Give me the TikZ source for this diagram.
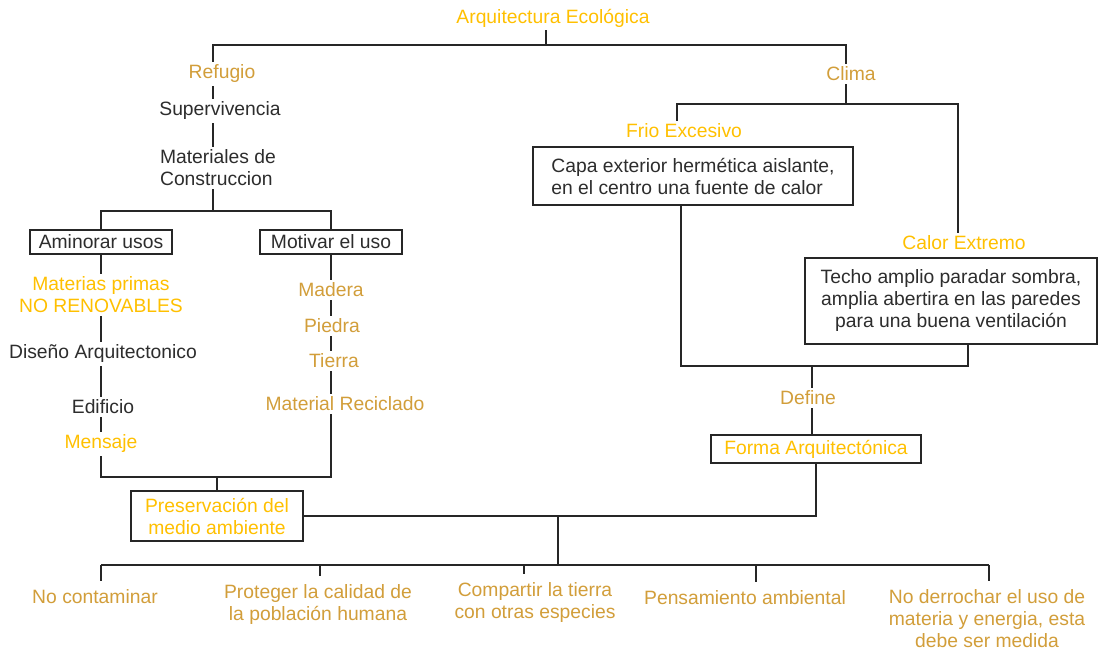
\documentclass[tikz,border=0pt]{standalone}
\usepackage{fontspec}
\setmainfont{Liberation Sans}
\usetikzlibrary{positioning,calc}
\definecolor{amarillo}{RGB}{255,192,0}
\definecolor{dorado}{RGB}{210,158,58}
\definecolor{grisos}{RGB}{45,45,45}
\tikzset{
  conn/.style={line width=1.8pt,color=black!85},
  txt/.style={inner sep=3pt,text=grisos,font=\fontsize{19.3}{22}\selectfont},
  amar/.style={txt,text=amarillo},
  dor/.style={txt,text=dorado},
  caja/.style={txt,draw=black!85,line width=1.8pt,fill=white,inner xsep=9pt},
}

\begin{document}
\begin{tikzpicture}[x=1pt,y=-1pt]
\useasboundingbox[fill=white] (0,0) rectangle (1099,650);

\node[amar] (arq) at (553,18) {Arquitectura Ecológica};
\node[dor] (ref) at (222,74) {Refugio};
\node[dor] (clima) at (851,74) {Clima};

% rama izquierda
\node[txt] (sup) at (220,111) {Supervivencia};
\node[txt,align=left] (mat) at (218,168) {Materiales de\\Construccion};
\node[caja,minimum width=142pt,minimum height=24pt] (amin) at (101,242) {Aminorar usos};
\node[caja,minimum width=142pt,minimum height=24pt] (mot) at (331,242) {Motivar el uso};
\node[amar,align=center] (mp) at (101,295) {Materias primas\\NO RENOVABLES};
\node[txt] (dis) at (103,354) {Diseño Arquitectonico};
\node[txt] (edi) at (103,407) {Edificio};
\node[amar] (men) at (101,444) {Mensaje};
\node[dor] (mad) at (331,290) {Madera};
\node[dor] (pie) at (332,326) {Piedra};
\node[dor] (tie) at (334,361) {Tierra};
\node[dor] (mrec) at (345,404) {Material Reciclado};
\node[caja,text=amarillo,align=center,minimum width=172pt,minimum height=50pt] (pres) at (217,516) {Preservación del\\medio ambiente};

% rama derecha
\node[amar] (frio) at (684,131) {Frio Excesivo};
\node[caja,align=left,minimum width=320pt,minimum height=58pt] (capa) at (693,176) {Capa exterior hermética aislante,\\en el centro una fuente de calor};
\node[amar] (calor) at (964,243) {Calor Extremo};
\node[caja,align=center,minimum width=292pt,minimum height=86pt] (techo) at (951,301) {Techo amplio paradar sombra,\\amplia abertira en las paredes\\para una buena ventilación};
\node[dor] (def) at (808,398) {Define};
\node[caja,text=amarillo,minimum width=210pt,minimum height=28pt] (forma) at (816,449) {Forma Arquitectónica};

% abajo
\node[dor,outer ysep=6pt] (b-nocont) at (95,597) {No contaminar};
\node[dor,outer ysep=6pt,align=center] (b-proteger) at (318,605) {Proteger la calidad de\\la población humana};
\node[dor,outer ysep=6pt,align=center] (b-compartir) at (535,603) {Compartir la tierra\\con otras especies};
\node[dor,outer ysep=6pt] (b-pensa) at (745,598) {Pensamiento ambiental};
\node[dor,outer ysep=6pt,align=center] (b-derr) at (987,619) {No derrochar el uso de\\materia y energia, esta\\debe ser medida};

\coordinate (jtop) at (546,45);
\coordinate (jref) at (213,45);
\coordinate (jcli) at (846,45);
\coordinate (jmat) at (213,211);
\coordinate (jpres) at (217,477);
\coordinate (jclima) at (846,104);
\coordinate (jfrio) at (677,104);
\coordinate (jcalor) at (958,104);
\coordinate (jcapa) at (681,366);
\coordinate (jtecho) at (968,366);
\coordinate (jdef) at (812,366);
\coordinate (jbot) at (558,516);
\coordinate (jfan) at (558,565);

\draw[conn] (jtop |- arq.south) -- (jtop);
\draw[conn] (jref |- ref.north) -- (jref) -- (jcli) -- (jcli |- clima.north);
\draw[conn] (jref |- ref.south) -- (jref |- sup.north);
\draw[conn] (jref |- sup.south) -- (jref |- mat.north);
\draw[conn] (jmat |- mat.south) -- (jmat);
\draw[conn] (amin.north) |- (jmat) -| (mot.north);

\draw[conn] (amin.south) -- (amin.south |- mp.north);
\draw[conn] (amin.south |- mp.south) -- (amin.south |- dis.north);
\draw[conn] (amin.south |- dis.south) -- (amin.south |- edi.north);
\draw[conn] (amin.south |- edi.south) -- (amin.south |- men.north);
\draw[conn] (mot.south) -- (mot.south |- mad.north);
\draw[conn] (mot.south |- mad.south) -- (mot.south |- pie.north);
\draw[conn] (mot.south |- pie.south) -- (mot.south |- tie.north);
\draw[conn] (mot.south |- tie.south) -- (mot.south |- mrec.north);
\draw[conn] (amin.south |- men.south) |- (jpres) -| (mot.south |- mrec.south);
\draw[conn] (jpres) -- (jpres |- pres.north);

\draw[conn] (jclima |- clima.south) -- (jclima);
\draw[conn] (jfrio |- frio.north) -- (jfrio) -- (jcalor) -- (jcalor |- calor.north);
\draw[conn] (jcapa |- capa.south) -- (jcapa) -- (jtecho) -- (jtecho |- techo.south);
\draw[conn] (jdef) -- (jdef |- def.north);
\draw[conn] (jdef |- def.south) -- (jdef |- forma.north);
\draw[conn] (forma.south) |- (pres.east);
\draw[conn] (jbot) -- (jfan);

\foreach \n/\x in {nocont/101,proteger/320,compartir/524,pensa/756,derr/989}{
  \coordinate (bus-\n) at (\x,565);
  \draw[conn] (bus-\n) -- (bus-\n |- b-\n.north);
}
\draw[conn] (bus-nocont) -- (bus-derr);

\end{tikzpicture}
\end{document}
